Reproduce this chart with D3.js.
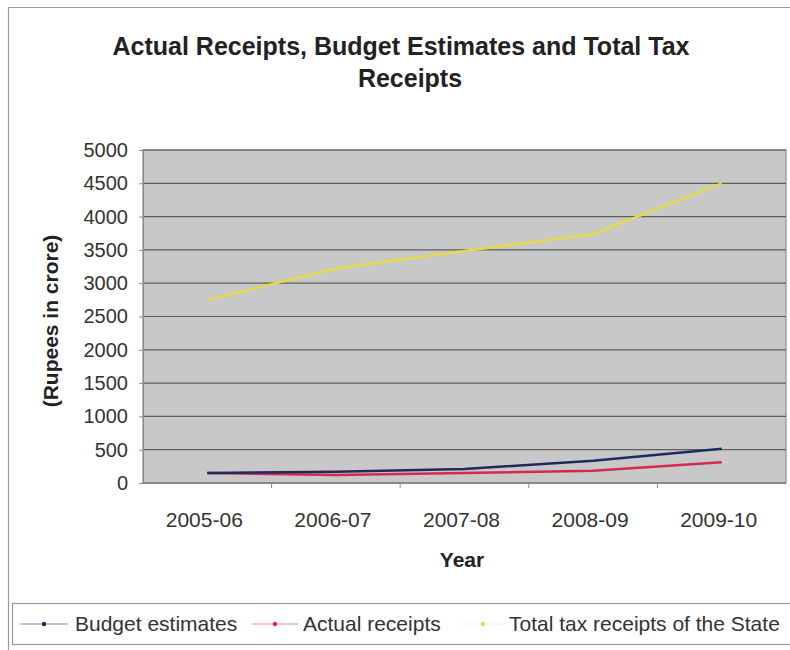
<!DOCTYPE html>
<html>
<head>
<meta charset="utf-8">
<script src="https://cdn.jsdelivr.net/npm/d3@7"></script>
<style>
  html, body { margin: 0; padding: 0; background: #fff; }
  svg { display: block; font-family: "Liberation Sans", Arial, sans-serif; }
</style>
</head>
<body>
<svg id="chart" width="790" height="650"></svg>
<script>
// Fiscal years on the category axis
const years = ["2005-06", "2006-07", "2007-08", "2008-09", "2009-10"];
// Values in Rupees crore
const budgetEstimates = [150, 170, 210, 335, 515];
const actualReceipts = [150, 120, 150, 185, 310];
const totalTaxReceipts = [2750, 3220, 3485, 3735, 4500];
const yTicks = [0, 500, 1000, 1500, 2000, 2500, 3000, 3500, 4000, 4500, 5000];

const seriesNames = ["Budget estimates", "Actual receipts", "Total tax receipts of the State"];
const seriesColors = ["#1f2a5e", "#d42a52", "#e8d84a"];
const seriesValues = [budgetEstimates, actualReceipts, totalTaxReceipts];

const svg = d3.select("#chart");
const plot = { left: 143, right: 786, top: 150, bottom: 483 };

// Outer chart frame
svg.append("path")
  .attr("d", "M8.5,650 L8.5,7.5 L790,7.5")
  .attr("fill", "none").attr("stroke", "#9a9a9a").attr("stroke-width", 1.2);

// Title
svg.append("text").attr("x", 401).attr("y", 55).attr("text-anchor", "middle")
  .attr("font-size", 25).attr("font-weight", "bold").attr("fill", "#222")
  .text("Actual Receipts, Budget Estimates and Total Tax");
svg.append("text").attr("x", 410).attr("y", 87).attr("text-anchor", "middle")
  .attr("font-size", 25).attr("font-weight", "bold").attr("fill", "#222")
  .text("Receipts");

const x = d3.scaleBand().domain(years).range([plot.left, plot.right]);
const y = d3.scaleLinear().domain([0, 5000]).range([plot.bottom, plot.top]);

// Plot background
svg.append("rect")
  .attr("x", plot.left).attr("y", plot.top)
  .attr("width", plot.right - plot.left).attr("height", plot.bottom - plot.top)
  .attr("fill", "#c8c8c8").attr("stroke", "#8a8a8a").attr("stroke-width", 1.2);

// Horizontal gridlines
svg.append("g").selectAll("line").data(yTicks).join("line")
  .attr("x1", plot.left).attr("x2", plot.right)
  .attr("y1", d => y(d)).attr("y2", d => y(d))
  .attr("stroke", "#5e5e5e").attr("stroke-width", 1.2);

// Y axis
const yAxis = svg.append("g").attr("transform", `translate(${plot.left},0)`)
  .call(d3.axisLeft(y).tickValues(yTicks).tickSize(4).tickPadding(11).tickFormat(d3.format("d")));
yAxis.select(".domain").attr("stroke", "#8a8a8a");
yAxis.selectAll(".tick line").attr("stroke", "#8a8a8a");
yAxis.selectAll("text").attr("font-size", 20).attr("fill", "#333")
  .attr("font-family", "Liberation Sans, Arial, sans-serif");

// X axis: ticks on band boundaries, labels at band centres
const xAxis = svg.append("g").attr("transform", `translate(0,${plot.bottom})`);
xAxis.append("line").attr("x1", plot.left).attr("x2", plot.right)
  .attr("stroke", "#8a8a8a").attr("stroke-width", 1.2);
xAxis.selectAll("line.tk").data(years.slice(1)).join("line").attr("class", "tk")
  .attr("x1", d => x(d)).attr("x2", d => x(d)).attr("y1", 0).attr("y2", 5)
  .attr("stroke", "#8a8a8a");
xAxis.selectAll("text").data(years).join("text")
  .attr("x", d => x(d) + x.bandwidth() / 2 - 3).attr("y", 44)
  .attr("text-anchor", "middle").attr("font-size", 21).attr("fill", "#333")
  .text(d => d);

// Axis titles
svg.append("text").attr("x", 462).attr("y", 567).attr("text-anchor", "middle")
  .attr("font-size", 21).attr("font-weight", "bold").attr("fill", "#222").text("Year");
svg.append("text").attr("transform", "translate(58,321) rotate(-90)")
  .attr("text-anchor", "middle").attr("font-size", 21).attr("font-weight", "bold")
  .attr("fill", "#222").text("(Rupees in crore)");

// Series lines
const line = d3.line()
  .x((d, i) => x(years[i]) + x.bandwidth() / 2)
  .y(d => y(d));
const drawOrder = [2, 1, 0];
drawOrder.forEach(k => {
  svg.append("path").datum(seriesValues[k])
    .attr("d", line).attr("fill", "none")
    .attr("stroke", seriesColors[k]).attr("stroke-width", 2.5)
    .attr("stroke-linejoin", "round");
});

// Legend
const legend = svg.append("g");
legend.append("rect").attr("x", 12.5).attr("y", 603.5).attr("width", 790).attr("height", 41)
  .attr("fill", "#fff").attr("stroke", "#9a9a9a").attr("stroke-width", 1.2);
const legendLine = [[20, 68], [252, 298], [460, 506]];
const legendText = [75, 303, 509];
seriesNames.forEach((name, i) => {
  const g = legend.append("g").attr("transform", "translate(0,624)");
  const [a, b] = legendLine[i];
  g.append("line").attr("x1", a).attr("x2", b).attr("y1", 0).attr("y2", 0)
    .attr("stroke", i === 2 ? "#f5f0c8" : seriesColors[i])
    .attr("stroke-opacity", i === 2 ? 1 : 0.55).attr("stroke-width", 1.2);
  g.append("circle").attr("cx", (a + b) / 2).attr("cy", 0).attr("r", 2.2).attr("fill", seriesColors[i]);
  g.append("text").attr("x", legendText[i]).attr("y", 7).attr("font-size", 21).attr("fill", "#333").text(name);
});
</script>
</body>
</html>
